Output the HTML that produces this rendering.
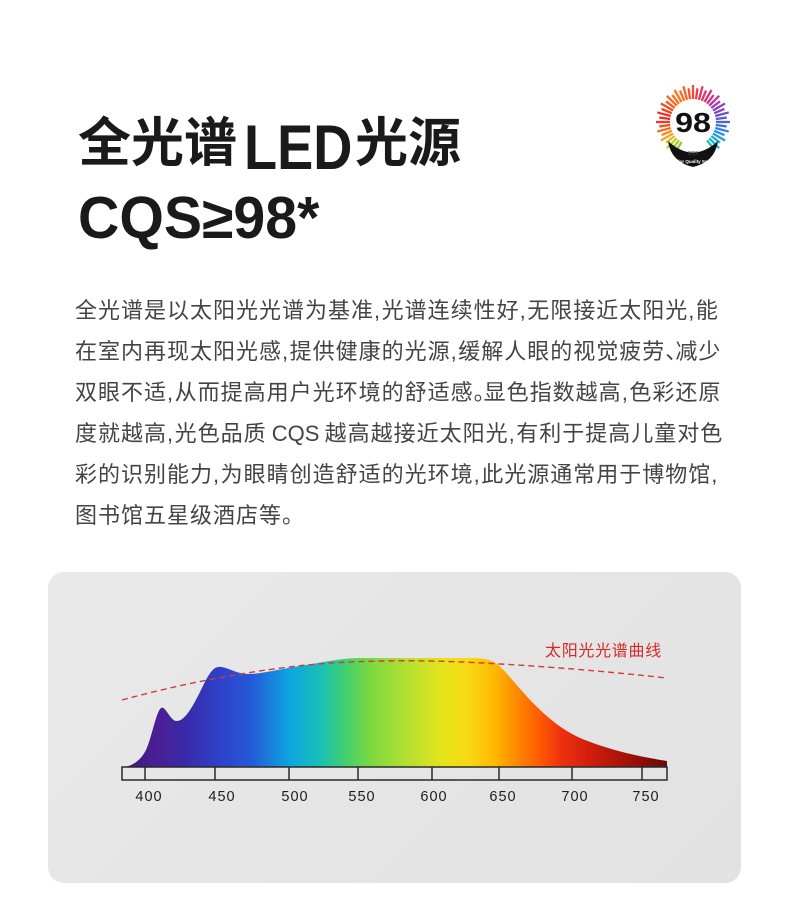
<!DOCTYPE html>
<html>
<head>
<meta charset="utf-8">
<style>
  html,body{margin:0;padding:0;background:#fff;}
  body{width:790px;height:904px;position:relative;overflow:hidden;}
  .t{position:absolute;white-space:nowrap;color:#1a1a1a;}
  .cjkb{font-family:"Liberation Sans","Noto Sans CJK SC",sans-serif;font-weight:700;font-size:53px;line-height:53px;}
  .latb{font-family:"Liberation Sans",sans-serif;font-weight:700;}
  .body{position:absolute;left:75px;top:290px;font-family:"Liberation Sans","Noto Sans CJK SC",sans-serif;font-size:22px;line-height:41px;letter-spacing:1px;color:#444;white-space:nowrap;}
  .c{margin-right:0.5px;}
  .p{letter-spacing:-12px;}
  .sp{letter-spacing:-1px;}
  .lat{letter-spacing:0;}
  .panel{position:absolute;left:48px;top:572px;width:693px;height:311px;border-radius:16px;background:linear-gradient(135deg,#e9e9e9,#e2e2e2);}
  svg{position:absolute;left:0;top:0;}
</style>
</head>
<body>

<div class="t cjkb" style="left:78px;top:117px;">全光谱</div>
<div class="t latb" style="left:244px;top:117px;font-size:63px;line-height:63px;transform:scaleX(0.86);transform-origin:left top;">LED</div>
<div class="t cjkb" style="left:355px;top:117px;">光源</div>
<div class="t latb" style="left:78px;top:189px;font-size:59px;line-height:59px;transform:scaleX(0.97);transform-origin:left top;">CQS≥98*</div>

<div class="body">全光谱是以太阳光光谱为基准<span class="c">,</span>光谱连续性好<span class="c">,</span>无限接近太阳光<span class="c">,</span>能<br>在室内再现太阳光感<span class="c">,</span>提供健康的光源<span class="c">,</span>缓解人眼的视觉疲劳<span class="p">、</span>减少<br>双眼不适<span class="c">,</span>从而提高用户光环境的舒适感<span class="p">。</span>显色指数越高<span class="c">,</span>色彩还原<br>度就越高<span class="c">,</span>光色品质<span class="sp"> </span><span class="lat">CQS</span><span class="sp"> </span>越高越接近太阳光<span class="c">,</span>有利于提高儿童对色<br>彩的识别能力<span class="c">,</span>为眼睛创造舒适的光环境<span class="c">,</span>此光源通常用于博物馆<span class="c">,</span><br>图书馆五星级酒店等。</div>

<div class="panel"></div>

<svg width="790" height="904" viewBox="0 0 790 904" xmlns="http://www.w3.org/2000/svg">
  <defs>
    <linearGradient id="spec" gradientUnits="userSpaceOnUse" x1="122" y1="0" x2="667" y2="0">
      <stop offset="0" stop-color="#3d1a78"/>
      <stop offset="0.07" stop-color="#4a1f96"/>
      <stop offset="0.115" stop-color="#3a2aa8"/>
      <stop offset="0.176" stop-color="#2f3fc8"/>
      <stop offset="0.235" stop-color="#2658d8"/>
      <stop offset="0.308" stop-color="#0ea5e0"/>
      <stop offset="0.363" stop-color="#18c0b8"/>
      <stop offset="0.409" stop-color="#40d070"/>
      <stop offset="0.455" stop-color="#7ad840"/>
      <stop offset="0.528" stop-color="#b8e030"/>
      <stop offset="0.593" stop-color="#e8e41a"/>
      <stop offset="0.638" stop-color="#f8d812"/>
      <stop offset="0.684" stop-color="#ffb800"/>
      <stop offset="0.721" stop-color="#ff8c00"/>
      <stop offset="0.767" stop-color="#ff5a00"/>
      <stop offset="0.804" stop-color="#ee3210"/>
      <stop offset="0.859" stop-color="#d01e0c"/>
      <stop offset="0.932" stop-color="#a01008"/>
      <stop offset="1" stop-color="#680a0a"/>
    </linearGradient>
  </defs>

  <!-- spectrum -->
  <path fill="url(#spec)" d="M122,767 C130,767 140,762 146,750 C152,737 156,712 161,708 C165,705 170,720 176,721 C184,722 192,708 200,692 C206,680 211,668 218,667 C226,666 236,674 248,674 C262,674 280,669 300,666 C320,663 340,658 360,658 L470,658 C482,658 490,659 497,664 C506,671 520,690 535,705 C550,720 565,732 585,740 C610,750 640,757 667,761 L667,767 Z"/>

  <!-- sun curve -->
  <path d="M122,700 C180,684 260,668 330,663 C400,659 450,661 500,664 C570,668 620,673 667,678" fill="none" stroke="#d33a3a" stroke-width="1.4" stroke-dasharray="6 4"/>
  <text x="545" y="656" font-family="Liberation Sans, Noto Sans CJK SC, sans-serif" font-size="16" letter-spacing="0.7" fill="#d42a2a">太阳光光谱曲线</text>

  <!-- axis -->
  <g stroke="#2a2a2a" stroke-width="1.5" fill="none">
    <rect x="122" y="767" width="545" height="13"/>
    <line x1="145" y1="767" x2="145" y2="780"/>
    <line x1="215" y1="767" x2="215" y2="780"/>
    <line x1="289" y1="767" x2="289" y2="780"/>
    <line x1="358" y1="767" x2="358" y2="780"/>
    <line x1="432" y1="767" x2="432" y2="780"/>
    <line x1="499" y1="767" x2="499" y2="780"/>
    <line x1="572" y1="767" x2="572" y2="780"/>
    <line x1="642" y1="767" x2="642" y2="780"/>
  </g>
  <g font-family="Liberation Sans, sans-serif" font-size="14.5" letter-spacing="1" fill="#1e1e1e" text-anchor="middle">
    <text x="149" y="801">400</text>
    <text x="222" y="801">450</text>
    <text x="295" y="801">500</text>
    <text x="362" y="801">550</text>
    <text x="434" y="801">600</text>
    <text x="503" y="801">650</text>
    <text x="575" y="801">700</text>
    <text x="646" y="801">750</text>
  </g>

  <!-- CQS logo -->
  <g transform="translate(693,122)" stroke-width="2.3">
    <line x1="0" y1="-23" x2="0" y2="-37" transform="rotate(-150)" stroke="#8cc83a"/>
    <line x1="0" y1="-23" x2="0" y2="-34" transform="rotate(-142.5)" stroke="#a8cc30"/>
    <line x1="0" y1="-23" x2="0" y2="-37" transform="rotate(-135)" stroke="#c8cc28"/>
    <line x1="0" y1="-23" x2="0" y2="-34" transform="rotate(-127.5)" stroke="#e0c020"/>
    <line x1="0" y1="-23" x2="0" y2="-37" transform="rotate(-120)" stroke="#f0a820"/>
    <line x1="0" y1="-23" x2="0" y2="-34" transform="rotate(-112.5)" stroke="#f48c20"/>
    <line x1="0" y1="-23" x2="0" y2="-37" transform="rotate(-105)" stroke="#f47020"/>
    <line x1="0" y1="-23" x2="0" y2="-34" transform="rotate(-97.5)" stroke="#f05424"/>
    <line x1="0" y1="-23" x2="0" y2="-37" transform="rotate(-90)" stroke="#ec3c28"/>
    <line x1="0" y1="-23" x2="0" y2="-34" transform="rotate(-82.5)" stroke="#ea3028"/>
    <line x1="0" y1="-23" x2="0" y2="-37" transform="rotate(-75)" stroke="#ec3424"/>
    <line x1="0" y1="-23" x2="0" y2="-34" transform="rotate(-67.5)" stroke="#f04020"/>
    <line x1="0" y1="-23" x2="0" y2="-37" transform="rotate(-60)" stroke="#f44c1c"/>
    <line x1="0" y1="-23" x2="0" y2="-34" transform="rotate(-52.5)" stroke="#f65a1a"/>
    <line x1="0" y1="-23" x2="0" y2="-37" transform="rotate(-45)" stroke="#f86818"/>
    <line x1="0" y1="-23" x2="0" y2="-34" transform="rotate(-37.5)" stroke="#fa7018"/>
    <line x1="0" y1="-23" x2="0" y2="-37" transform="rotate(-30)" stroke="#fb7418"/>
    <line x1="0" y1="-23" x2="0" y2="-34" transform="rotate(-22.5)" stroke="#fa6c1e"/>
    <line x1="0" y1="-23" x2="0" y2="-37" transform="rotate(-15)" stroke="#f86024"/>
    <line x1="0" y1="-23" x2="0" y2="-34" transform="rotate(-7.5)" stroke="#f4542c"/>
    <line x1="0" y1="-23" x2="0" y2="-37" transform="rotate(0)" stroke="#f04a38"/>
    <line x1="0" y1="-23" x2="0" y2="-34" transform="rotate(7.5)" stroke="#ec4046"/>
    <line x1="0" y1="-23" x2="0" y2="-37" transform="rotate(15)" stroke="#e83a56"/>
    <line x1="0" y1="-23" x2="0" y2="-34" transform="rotate(22.5)" stroke="#e23668"/>
    <line x1="0" y1="-23" x2="0" y2="-37" transform="rotate(30)" stroke="#d8347c"/>
    <line x1="0" y1="-23" x2="0" y2="-34" transform="rotate(37.5)" stroke="#cc3490"/>
    <line x1="0" y1="-23" x2="0" y2="-37" transform="rotate(45)" stroke="#bc38a2"/>
    <line x1="0" y1="-23" x2="0" y2="-34" transform="rotate(52.5)" stroke="#a83cb2"/>
    <line x1="0" y1="-23" x2="0" y2="-37" transform="rotate(60)" stroke="#9240c0"/>
    <line x1="0" y1="-23" x2="0" y2="-34" transform="rotate(67.5)" stroke="#7c46ca"/>
    <line x1="0" y1="-23" x2="0" y2="-37" transform="rotate(75)" stroke="#6a4ed2"/>
    <line x1="0" y1="-23" x2="0" y2="-34" transform="rotate(82.5)" stroke="#5858d8"/>
    <line x1="0" y1="-23" x2="0" y2="-37" transform="rotate(90)" stroke="#4a64dc"/>
    <line x1="0" y1="-23" x2="0" y2="-34" transform="rotate(97.5)" stroke="#3e72de"/>
    <line x1="0" y1="-23" x2="0" y2="-37" transform="rotate(105)" stroke="#3480e0"/>
    <line x1="0" y1="-23" x2="0" y2="-34" transform="rotate(112.5)" stroke="#2a90e0"/>
    <line x1="0" y1="-23" x2="0" y2="-37" transform="rotate(120)" stroke="#229ede"/>
    <line x1="0" y1="-23" x2="0" y2="-34" transform="rotate(127.5)" stroke="#1cacd8"/>
    <line x1="0" y1="-23" x2="0" y2="-37" transform="rotate(135)" stroke="#18b8cc"/>
    <line x1="0" y1="-23" x2="0" y2="-34" transform="rotate(142.5)" stroke="#20c0b0"/>
  </g>
  <g transform="translate(693,122)">
    <path d="M-25,19 Q0,42 25,19 Q22,40 0,45 Q-22,40 -25,19 Z" fill="#111"/>
    <text x="0" y="0" text-anchor="middle" font-family="Liberation Sans, sans-serif" font-weight="700" font-size="28" fill="#111" transform="translate(0,10) scale(1.15,1)">98</text>
    <text x="0" y="33" text-anchor="middle" font-family="Liberation Sans, sans-serif" font-size="5" fill="#444">CQS</text>
    <text x="0" y="41" text-anchor="middle" font-family="Liberation Sans, sans-serif" font-size="4.5" font-weight="700" fill="#fff">Color Quality Scale</text>
  </g>
</svg>

</body>
</html>
